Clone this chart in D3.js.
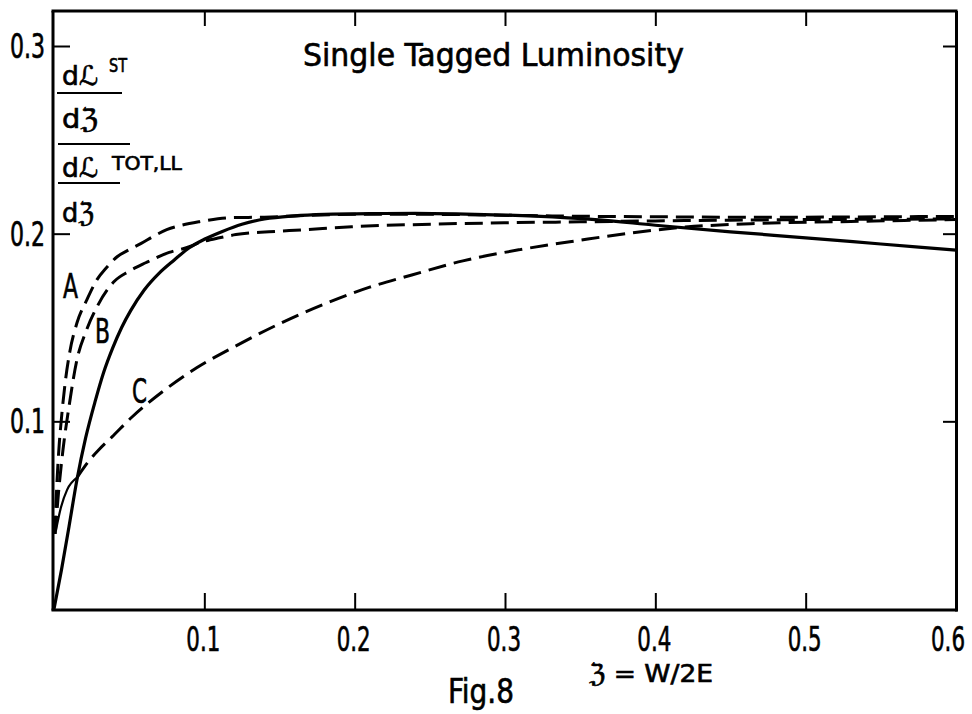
<!DOCTYPE html>
<html>
<head>
<meta charset="utf-8">
<script src="https://cdn.jsdelivr.net/npm/d3@7"></script>
<style>
  html, body { margin: 0; padding: 0; background: #fff; }
  svg { display: block; }
  text { font-family: "DejaVu Sans Condensed", "DejaVu Sans", "Liberation Sans", sans-serif; font-stretch: condensed; fill: #000; stroke: #000; stroke-width: 0.6px; }
</style>
</head>
<body>
<svg id="chart" width="972" height="714"></svg>
<script>
// ---- data ----
const xTicks = [0.1, 0.2, 0.3, 0.4, 0.5, 0.6];
const xTickLabels = ["0.1", "0.2", "0.3", "0.4", "0.5", "0.6"];
const yTicks = [0.1, 0.2, 0.3];
const yTickLabels = ["0.1", "0.2", "0.3"];

// solid curve
const solidX = [0, 0.005, 0.010, 0.0153, 0.021, 0.0275, 0.033, 0.039, 0.045, 0.051, 0.060, 0.070, 0.080, 0.090, 0.100, 0.112, 0.125, 0.140, 0.160, 0.180, 0.210, 0.240, 0.280, 0.320, 0.360, 0.400, 0.450, 0.500, 0.550, 0.600];
const solidY = [0, 0.021, 0.044, 0.069, 0.091, 0.111, 0.126, 0.139, 0.150, 0.159, 0.170, 0.179, 0.186, 0.1925, 0.197, 0.2012, 0.2050, 0.2078, 0.2095, 0.2103, 0.2107, 0.2108, 0.2103, 0.2093, 0.2075, 0.2045, 0.2010, 0.1978, 0.1945, 0.1912];

// curve A (dashed)
const aX = [0.0005, 0.002, 0.0035, 0.005, 0.0075, 0.0105, 0.0153, 0.022, 0.0286, 0.035, 0.042, 0.050, 0.058, 0.066, 0.075, 0.085, 0.097, 0.117, 0.140, 0.170, 0.200, 0.250, 0.300, 0.350, 0.400, 0.450, 0.500, 0.550, 0.600];
const aY = [0.040, 0.068, 0.088, 0.102, 0.121, 0.137, 0.1525, 0.165, 0.1755, 0.182, 0.1877, 0.1915, 0.1948, 0.1985, 0.2021, 0.2045, 0.2064, 0.2085, 0.2088, 0.2098, 0.2103, 0.2103, 0.2098, 0.2093, 0.2090, 0.2088, 0.2088, 0.2090, 0.2092];

// curve B (dashed)
const bX = [0.0008, 0.003, 0.006, 0.010, 0.0153, 0.0213, 0.0286, 0.040, 0.050, 0.061, 0.0766, 0.088, 0.098, 0.110, 0.121, 0.143, 0.165, 0.198, 0.238, 0.300, 0.350, 0.400, 0.450, 0.500, 0.550, 0.600];
const bY = [0.040, 0.062, 0.085, 0.108, 0.133, 0.148, 0.161, 0.1745, 0.180, 0.1845, 0.190, 0.1925, 0.1955, 0.1978, 0.1995, 0.2010, 0.2020, 0.2037, 0.2048, 0.2058, 0.2063, 0.2068, 0.2072, 0.2075, 0.2077, 0.2078];

// curve C (dashed, thin solid start)
const cX = [0.0013, 0.0047, 0.0087, 0.0153, 0.0228, 0.030, 0.0386, 0.0519, 0.0725, 0.0949, 0.1217, 0.150, 0.183, 0.210, 0.238, 0.272, 0.310, 0.350, 0.385, 0.420, 0.470, 0.530, 0.600];
const cY = [0.042, 0.0544, 0.0635, 0.0700, 0.0785, 0.0850, 0.0917, 0.1023, 0.1160, 0.1285, 0.1405, 0.1520, 0.1635, 0.1715, 0.1780, 0.1855, 0.1915, 0.1965, 0.2005, 0.2035, 0.2055, 0.2065, 0.2075];

const curveLabels = ["A", "B", "C"];

// ---- drawing ----
const svg = d3.select("#chart");
const x = d3.scaleLinear().domain([0, 0.6]).range([54, 956]);
const y = d3.scaleLinear().domain([0, 0.3]).range([609, 46]);
const yTop = 11;

const zip = (xs, ys) => xs.map((v, i) => [v, ys[i]]);
const line = d3.line().x(d => x(d[0])).y(d => y(d[1])).curve(d3.curveMonotoneX);

// place a text at (px,py) with the given anchor, squeezed horizontally to width w
function fitText(parent, str, px, py, size, w, anchor) {
  const t = parent.append("text").attr("font-size", size).attr("text-anchor", anchor || "start").text(str);
  const len = t.node().getComputedTextLength();
  const k = len > 0 ? w / len : 1;
  t.attr("transform", `translate(${px},${py}) scale(${k},1)`);
  return t;
}

// frame
const frame = svg.append("g").attr("fill", "none").attr("stroke", "#000").attr("stroke-width", 3);
frame.append("line").attr("x1", x(0) - 1).attr("x2", x(0) - 1).attr("y1", yTop).attr("y2", y(0) + 1.5);
frame.append("line").attr("x1", x(0) - 2.5).attr("x2", x(0.6) + 1.5).attr("y1", y(0) + 1).attr("y2", y(0) + 1);
frame.append("line").attr("x1", x(0) - 2.5).attr("x2", x(0.6) + 1.5).attr("y1", yTop).attr("y2", yTop);
frame.append("line").attr("x1", x(0.6) + 0.5).attr("x2", x(0.6) + 0.5).attr("y1", yTop).attr("y2", y(0) + 2.5);

// axes via d3 axis generators (ticks inside)
const bottomAxis = d3.axisTop(x).tickValues(xTicks.slice(0, 5)).tickSize(16).tickFormat("");
const topAxis = d3.axisBottom(x).tickValues(xTicks.slice(0, 5)).tickSize(15).tickFormat("");
const leftAxis = d3.axisRight(y).tickValues(yTicks).tickSize(17).tickFormat("");
const rightAxis = d3.axisLeft(y).tickValues(yTicks).tickSize(13).tickFormat("");

function styleAxis(g) {
  g.select(".domain").remove();
  g.selectAll(".tick line").attr("stroke", "#000").attr("stroke-width", 2);
}
svg.append("g").attr("transform", `translate(0,${y(0)})`).call(bottomAxis).call(styleAxis);
svg.append("g").attr("transform", `translate(0,${yTop})`).call(topAxis).call(styleAxis);
svg.append("g").attr("transform", `translate(${x(0) - 1},0)`).call(leftAxis).call(styleAxis);
svg.append("g").attr("transform", `translate(${x(0.6)},0)`).call(rightAxis).call(styleAxis);

// tick labels
const xl = svg.append("g");
xTicks.forEach((d, i) => {
  if (i === 5) fitText(xl, xTickLabels[i], 965, 651, 33, 34, "end");
  else fitText(xl, xTickLabels[i], x(d) - 1, 651, 33, 34, "middle");
});
const ylab = svg.append("g");
yTicks.forEach((d, i) => fitText(ylab, yTickLabels[i], 45, y(d) + 12, 33, 35, "end"));

// curves
svg.append("path").attr("d", line(zip(solidX, solidY)))
  .attr("fill", "none").attr("stroke", "#000").attr("stroke-width", 3.2);

const dashed = [zip(aX, aY), zip(bX, bY)];
svg.append("g").selectAll("path").data(dashed).join("path")
  .attr("d", d => line(d))
  .attr("fill", "none").attr("stroke", "#000").attr("stroke-width", 3)
  .attr("stroke-dasharray", "18,8");

const cPts = zip(cX, cY);
svg.append("path").attr("d", line(cPts.slice(0, 4)))
  .attr("fill", "none").attr("stroke", "#000").attr("stroke-width", 2.2);
svg.append("path").attr("d", line(cPts.slice(3)))
  .attr("fill", "none").attr("stroke", "#000").attr("stroke-width", 3)
  .attr("stroke-dasharray", "18,8");

// curve labels
const labelPos = [[63, 298], [95, 343], [132, 403]];
const cl = svg.append("g");
curveLabels.forEach((d, i) => fitText(cl, d, labelPos[i][0], labelPos[i][1], 33, 15, "start"));

// title
fitText(svg, "Single Tagged Luminosity", 303, 66, 32, 381, "start");

// x-axis variable and figure caption
fitText(svg, "\u2128 = W/2E", 589, 682, 25, 124, "start");
fitText(svg, "Fig.8", 448, 703, 33, 66, "start");

// y-axis label: (dL^ST/dz) / (dL^TOT,LL/dz)
const yl = svg.append("g");
fitText(yl, "d\u2112", 62, 85, 27, 36, "start");
fitText(yl, "ST", 109, 72, 19, 18, "start");
yl.append("line").attr("x1", 57).attr("x2", 122).attr("y1", 93).attr("y2", 93).attr("stroke", "#000").attr("stroke-width", 2.2);
fitText(yl, "d\u2128", 62, 128, 27, 36, "start");
yl.append("line").attr("x1", 58).attr("x2", 130).attr("y1", 144).attr("y2", 144).attr("stroke", "#000").attr("stroke-width", 2.2);
fitText(yl, "d\u2112", 62, 177, 27, 36, "start");
fitText(yl, "TOT,LL", 112, 170, 19, 70, "start");
yl.append("line").attr("x1", 58).attr("x2", 120).attr("y1", 183).attr("y2", 183).attr("stroke", "#000").attr("stroke-width", 2.2);
fitText(yl, "d\u2128", 62, 222, 27, 32, "start");
</script>
</body>
</html>
